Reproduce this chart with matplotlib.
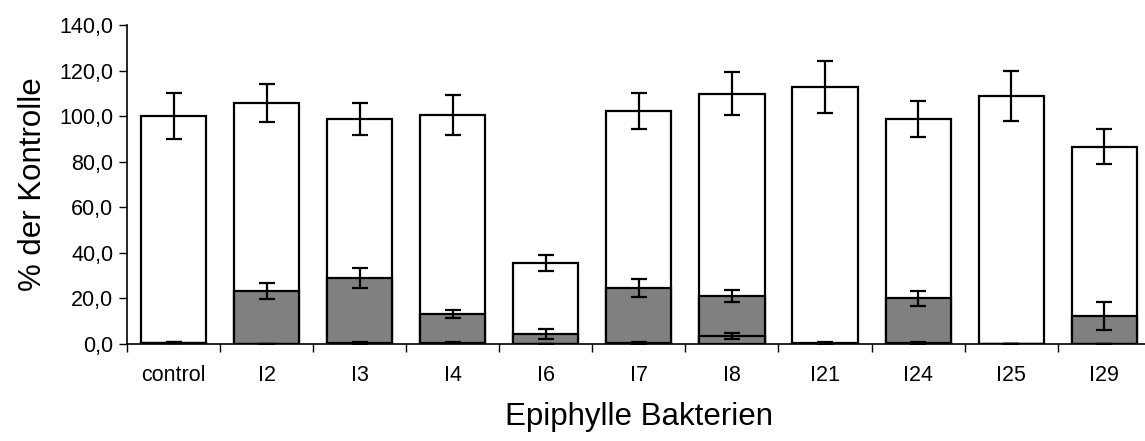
import numpy as np
import matplotlib.pyplot as plt
from matplotlib.ticker import FuncFormatter

plt.rcParams['font.family'] = ['Liberation Sans', 'DejaVu Sans']

# Data
labels = ['control', 'I2', 'I3', 'I4', 'I6', 'I7', 'I8', 'I21', 'I24', 'I25', 'I29']
total = [100.0, 105.8, 98.9, 100.5, 35.7, 102.1, 109.9, 112.6, 98.8, 109.0, 86.6]
total_err = [10.0, 8.2, 7.0, 8.7, 3.5, 7.9, 9.3, 11.4, 7.9, 11.0, 7.6]
grey = [0.6, 23.4, 28.8, 13.2, 4.4, 24.6, 21.1, 0.0, 20.0, 0.0, 12.2]
grey_err = [0.3, 3.5, 4.4, 1.7, 2.2, 4.0, 2.6, 0.0, 3.2, 0.0, 6.1]
small = [0.6, 0.0, 0.5, 0.6, 0.0, 0.3, 3.5, 0.3, 0.4, 0.0, 0.0]
small_err = [0.3, 0.0, 0.4, 0.3, 0.0, 0.4, 1.2, 0.4, 0.4, 0.0, 0.0]

x = np.arange(len(labels))
w = 0.7

fig = plt.figure(figsize=(11.45, 4.41), dpi=100)
ax = fig.add_axes([0.111, 0.22, 0.894, 0.7234])

ebar = dict(ecolor='black', elinewidth=1.6, capsize=6, capthick=1.6)
ax.bar(x, total, w, yerr=total_err, color='white', edgecolor='black', linewidth=1.6,
       error_kw=ebar, zorder=2)
ax.bar(x, grey, w, yerr=grey_err, color='#808080', edgecolor='black', linewidth=1.6,
       error_kw=ebar, zorder=3)
ax.bar(x, small, w, yerr=small_err, color='#808080', edgecolor='black', linewidth=1.6,
       error_kw=ebar, zorder=4)

ax.set_xlim(-0.5, 10.5)
ax.set_ylim(0, 140)
ax.set_yticks(np.arange(0, 141, 20))
ax.yaxis.set_major_formatter(FuncFormatter(lambda v, p: f'{v:.1f}'.replace('.', ',')))

ax.set_xticks(np.arange(-0.5, 10.6, 1))
ax.set_xticklabels([])
ax.set_xticks(x, minor=True)
ax.set_xticklabels(labels, minor=True, fontsize=15.5)
ax.tick_params(axis='x', which='minor', length=0, pad=15)
ax.tick_params(axis='x', which='major', length=6, width=1, direction='out')
ax.tick_params(axis='y', length=6, width=1, labelsize=15.5, pad=4)

for s in ['top', 'right']:
    ax.spines[s].set_visible(False)
for s in ['left', 'bottom']:
    ax.spines[s].set_linewidth(1.2)

ax.set_ylabel('% der Kontrolle', fontsize=22.5, labelpad=8)
ax.set_xlabel('Epiphylle Bakterien', fontsize=22.5, labelpad=12)

fig.savefig('out.png', dpi=100)
